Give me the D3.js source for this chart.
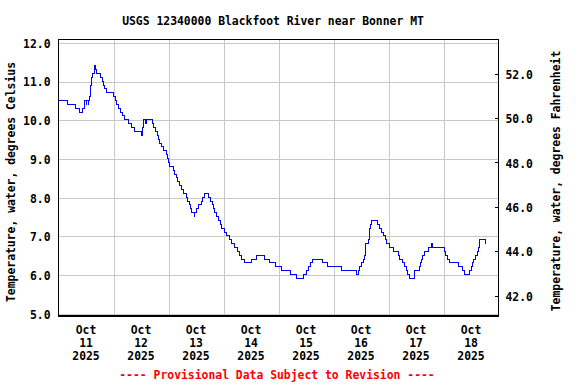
<!DOCTYPE html>
<html>
<head>
<meta charset="utf-8">
<script src="https://cdn.jsdelivr.net/npm/d3@7"></script>
<style>
  body { margin: 0; background: #fff; }
  text { font-family: "DejaVu Sans Mono", monospace; font-weight: bold; font-size: 11.4px; fill: #000; }
</style>
</head>
<body>
<svg id="chart" width="576" height="384"></svg>
<script>
const title = "USGS 12340000 Blackfoot River near Bonner MT";
const leftLabel = "Temperature, water, degrees Celsius";
const rightLabel = "Temperature, water, degrees Fahrenheit";
const footer = "---- Provisional Data Subject to Revision ----";

const startDate = new Date(2025, 9, 11);
const endDate = new Date(2025, 9, 19);
const celsiusTicks = [5, 6, 7, 8, 9, 10, 11, 12];
const fahrenheitTicks = [42, 44, 46, 48, 50, 52];

// [hours since Oct 11 00:00, reading in deg C] at each change of the 0.1 deg reading
const readings = [
  [0, 10.5], [4, 10.4], [7.5, 10.3], [9, 10.2], [10.5, 10.3], [11.25, 10.4], [11.5, 10.5], [12, 10.4],
  [12.25, 10.5], [13, 10.4], [13.25, 10.5], [13.5, 10.6], [13.75, 10.8], [14, 10.9], [14.25, 11.0],
  [14.5, 11.1], [15, 11.2], [15.5, 11.3], [15.75, 11.4], [16, 11.3], [16.5, 11.2], [18.25, 11.1],
  [19, 11.0], [19.75, 10.9], [20.25, 10.8], [20.75, 10.7], [24, 10.6], [25, 10.5], [25.5, 10.4],
  [26.25, 10.3], [27.25, 10.2], [28, 10.1], [29, 10.0], [30.75, 9.9], [32, 9.8], [33.25, 9.7],
  [36.25, 9.6], [36.5, 9.8], [37, 9.9], [37.25, 10.0], [37.75, 9.9], [38.25, 10.0], [41, 9.9],
  [41.5, 9.8], [42.25, 9.7], [43, 9.6], [43.5, 9.5], [44.25, 9.4], [45, 9.3], [46, 9.2], [47, 9.1],
  [47.75, 9.0], [48, 8.9], [48.5, 8.8], [50, 8.7], [50.75, 8.6], [51.5, 8.5], [52, 8.4], [53, 8.3],
  [53.75, 8.2], [54.75, 8.1], [55.75, 8.0], [56.5, 7.9], [57.25, 7.8], [57.75, 7.7], [58, 7.6],
  [59.25, 7.5], [59.5, 7.6], [60.25, 7.7], [61.25, 7.8], [62.25, 7.9], [63, 8.0], [63.75, 8.1],
  [65.25, 8.0], [66.5, 7.9], [67.25, 7.8], [67.75, 7.7], [68.25, 7.6], [69, 7.5], [70, 7.4],
  [70.5, 7.3], [71, 7.2], [72.25, 7.1], [73.25, 7.0], [74.75, 6.9], [75.5, 6.8], [77, 6.7], [78, 6.6],
  [79, 6.5], [80, 6.4], [81.25, 6.3], [84.25, 6.4], [86.5, 6.5], [90, 6.4], [92.25, 6.3], [94.5, 6.2],
  [97.25, 6.1], [101.25, 6.0], [104, 5.9], [106.75, 6.0], [108, 6.1], [109.25, 6.2], [110, 6.3],
  [110.75, 6.4], [115, 6.3], [117.25, 6.2], [123.5, 6.1], [130, 6.0], [130.75, 6.1], [131.5, 6.2],
  [132.25, 6.3], [133, 6.4], [133.5, 6.5], [133.75, 6.7], [134, 6.8], [135.25, 6.9], [135.5, 7.0],
  [135.75, 7.2], [136, 7.3], [136.5, 7.4], [139.25, 7.3], [140, 7.2], [141, 7.1], [141.75, 7.0],
  [142.5, 6.9], [143, 6.8], [144.25, 6.7], [146.25, 6.6], [148.25, 6.5], [149, 6.4], [150.25, 6.3],
  [151, 6.2], [151.75, 6.1], [152.5, 6.0], [153.25, 5.9], [155.25, 6.0], [155.5, 6.1], [157.5, 6.2],
  [157.75, 6.3], [158.25, 6.4], [158.75, 6.5], [159.5, 6.6], [161.5, 6.7], [162.75, 6.8], [163, 6.7],
  [168.25, 6.6], [169, 6.5], [169.75, 6.4], [170.5, 6.3], [174.75, 6.2], [176.25, 6.1], [177.25, 6.0],
  [179.5, 6.1], [180.25, 6.2], [180.5, 6.3], [181, 6.4], [181.75, 6.5], [183, 6.6], [183.25, 6.7],
  [183.5, 6.8], [183.75, 6.9], [186.25, 6.8], [186.5, 6.8]
];

const margin = { top: 39.5, right: 77.5, bottom: 68, left: 58.5 };
const width = 576 - margin.left - margin.right;
const height = 384 - margin.top - margin.bottom;

const data = readings.map(([h, v]) => ({ t: d3.timeMinute.offset(startDate, h * 60), v }));

const svg = d3.select("#chart");
const g = svg.append("g").attr("transform", `translate(${margin.left},${margin.top})`);

const x = d3.scaleTime().domain([startDate, endDate]).range([0, width]);
const y = d3.scaleLinear().domain([4.93, 12.077]).range([height, 0]);
const yF = d3.scaleLinear().domain([41.08, 53.54]).range([height, 0]);

// grid
g.append("g").selectAll("line")
  .data(celsiusTicks)
  .join("line")
    .attr("x1", 0).attr("x2", width)
    .attr("y1", d => Math.round(y(d)) + 0.5).attr("y2", d => Math.round(y(d)) + 0.5)
    .attr("stroke", "#c8c8c8").attr("shape-rendering", "crispEdges");

const days = d3.timeDay.range(startDate, endDate);
g.append("g").selectAll("line")
  .data(days.slice(1))
  .join("line")
    .attr("x1", d => Math.round(x(d)) + 0.5).attr("x2", d => Math.round(x(d)) + 0.5)
    .attr("y1", 0).attr("y2", height)
    .attr("stroke", "#c8c8c8").attr("shape-rendering", "crispEdges");

// data line
const line = d3.line()
  .x(d => x(d.t))
  .y(d => y(d.v))
  .curve(d3.curveStepAfter);

g.append("path")
  .datum(data)
  .attr("fill", "none")
  .attr("stroke", "#0000ff")
  .attr("stroke-width", 1)
  .attr("shape-rendering", "crispEdges")
  .attr("d", line);

// frame
g.append("rect")
  .attr("width", width).attr("height", height)
  .attr("fill", "none").attr("stroke", "#000").attr("stroke-width", 1.2)
  .attr("shape-rendering", "crispEdges");

// left axis
g.append("g")
  .call(d3.axisLeft(y).tickValues(celsiusTicks).tickFormat(d3.format(".1f")).tickSize(0).tickPadding(8))
  .call(a => a.select(".domain").remove())
  .selectAll("text")
    .attr("dy", "0.42em")
    .style("font-family", "DejaVu Sans Mono").style("font-size", "11.4px").style("font-weight", "bold");

// right axis
g.append("g")
  .attr("transform", `translate(${width},0)`)
  .call(d3.axisRight(yF).tickValues(fahrenheitTicks).tickFormat(d3.format(".1f")).tickSize(-4).tickPadding(7))
  .call(a => a.select(".domain").remove())
  .call(a => a.selectAll(".tick line").attr("shape-rendering", "crispEdges"))
  .selectAll("text")
    .attr("dy", "0.42em")
    .style("font-family", "DejaVu Sans Mono").style("font-size", "11.4px").style("font-weight", "bold");

// x labels, centred on noon of each day
const fmtMon = d3.timeFormat("%b"), fmtDay = d3.timeFormat("%d"), fmtYear = d3.timeFormat("%Y");
const xl = g.append("g").selectAll("text")
  .data(days)
  .join("text")
    .attr("text-anchor", "middle")
    .attr("transform", d => `translate(${x(d3.timeHour.offset(d, 12))},${334 - margin.top})`);
xl.append("tspan").attr("x", 0).attr("y", 0).text(fmtMon);
xl.append("tspan").attr("x", 0).attr("y", 13).text(fmtDay);
xl.append("tspan").attr("x", 0).attr("y", 26).text(fmtYear);

// titles
svg.append("text").attr("x", 273).attr("y", 24.5).attr("text-anchor", "middle").text(title);
svg.append("text").attr("transform", "translate(15,182) rotate(-90)").attr("text-anchor", "middle").text(leftLabel);
svg.append("text").attr("transform", "translate(560,181) rotate(-90)").attr("text-anchor", "middle").text(rightLabel);
svg.append("text").attr("x", 277).attr("y", 379).attr("text-anchor", "middle").style("fill", "#ff0000").text(footer);
</script>
</body>
</html>
